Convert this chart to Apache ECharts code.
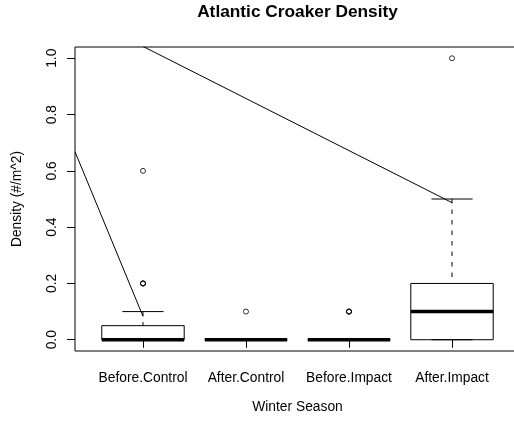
<!DOCTYPE html>
<html>
<head>
<meta charset="utf-8">
<script src="https://cdn.jsdelivr.net/npm/echarts@6/dist/echarts.min.js"></script>
<style>
  html, body { margin: 0; padding: 0; background: #fff; }
  #chart { width: 514px; height: 429px; }
</style>
</head>
<body>
<div id="chart"></div>
<script>
// Winter season groups along the x axis
const seasons = ['Before.Control', 'After.Control', 'Before.Impact', 'After.Impact'];

// Box summaries per season: whisker low, Q1, median, Q3, whisker high
const boxLow    = [0, 0, 0, 0];
const boxQ1     = [0, 0, 0, 0];
const boxMedian = [0, 0, 0, 0.1];
const boxQ3     = [0.05, 0, 0, 0.2];
const boxHigh   = [0.1, 0, 0, 0.5];

// Outlying observations (season position, density)
const outlierSeason  = [1, 1, 1, 1, 2, 3, 3, 3, 4];
const outlierDensity = [0.2, 0.2, 0.2, 0.6, 0.1, 0.1, 0.1, 0.1, 1.0];

// Two straight reference lines drawn over the boxes
const lineAX = [0.34, 1];
const lineAY = [0.668, 0.083];
const lineBX = [1, 4];
const lineBY = [1.042, 0.487];

// Axis ticks
const xTicks = [1, 2, 3, 4];
const yTicks = [0, 0.2, 0.4, 0.6, 0.8, 1.0];

const FONT = '"Liberation Sans", Arial, Helvetica, sans-serif';

const boxData = seasons.map((s, i) => [i + 1, boxLow[i], boxQ1[i], boxMedian[i], boxQ3[i], boxHigh[i]]);
const outlierData = outlierSeason.map((s, i) => [s, outlierDensity[i]]);
const lineAData = lineAX.map((x, i) => [x, lineAY[i]]);
const lineBData = lineBX.map((x, i) => [x, lineBY[i]]);

function renderBox(params, api) {
  const x = api.value(0);
  const pLo = api.coord([x, api.value(1)]);
  const pQ1 = api.coord([x, api.value(2)]);
  const pMed = api.coord([x, api.value(3)]);
  const pQ3 = api.coord([x, api.value(4)]);
  const pHi = api.coord([x, api.value(5)]);
  const half = api.size([0.8, 0])[0] / 2;
  const cap = half / 2;
  const cx = pMed[0];
  const thin = { stroke: '#000', lineWidth: 1 };
  // whiskers are dashed, drawn from the whisker end towards the box
  const dashed = { stroke: '#000', lineWidth: 1, lineDash: [4.5, 6] };
  return {
    type: 'group',
    children: [
      { type: 'line', shape: { x1: cx, y1: pHi[1], x2: cx, y2: pQ3[1] }, style: dashed },
      { type: 'line', shape: { x1: cx, y1: pLo[1], x2: cx, y2: pQ1[1] }, style: dashed },
      { type: 'line', shape: { x1: cx - cap, y1: pHi[1], x2: cx + cap, y2: pHi[1] }, style: thin },
      { type: 'line', shape: { x1: cx - cap, y1: pLo[1], x2: cx + cap, y2: pLo[1] }, style: thin },
      { type: 'rect', shape: { x: cx - half, y: pQ3[1], width: 2 * half, height: pQ1[1] - pQ3[1] },
        style: { fill: 'transparent', stroke: '#000', lineWidth: 1 } },
      { type: 'line', shape: { x1: cx - half, y1: pMed[1], x2: cx + half, y2: pMed[1] },
        style: { stroke: '#000', lineWidth: 3.5 } }
    ]
  };
}

const chart = echarts.init(document.getElementById('chart'), null, { renderer: 'canvas' });

chart.setOption({
  animation: false,
  backgroundColor: '#fff',
  graphic: [{
    type: 'text',
    x: 297.5,
    y: 12,
    style: {
      text: 'Atlantic Croaker Density',
      fill: '#000',
      font: 'bold 17.3px ' + FONT,
      align: 'center',
      verticalAlign: 'middle'
    }
  }],
  grid: {
    left: 75, top: 47, width: 445, height: 304,
    outerBoundsMode: 'none',
    containLabel: false,
    show: true, borderColor: '#000', borderWidth: 1, backgroundColor: 'transparent'
  },
  xAxis: {
    type: 'value',
    min: 0.34, max: 4.66,
    splitLine: { show: false },
    axisLine: { show: false },
    axisTick: { show: true, customValues: xTicks, length: 8, lineStyle: { color: '#000', width: 1 } },
    axisLabel: {
      customValues: xTicks,
      formatter: v => seasons[Math.round(v) - 1],
      margin: 20, fontSize: 13.8, color: '#000', fontFamily: FONT
    },
    name: 'Winter Season',
    nameLocation: 'middle',
    nameGap: 49,
    nameTextStyle: { fontSize: 13.8, color: '#000', fontFamily: FONT }
  },
  yAxis: {
    type: 'value',
    min: -0.04, max: 1.04,
    splitLine: { show: false },
    axisLine: { show: false },
    axisTick: { show: true, customValues: yTicks, length: 8, lineStyle: { color: '#000', width: 1 } },
    axisLabel: {
      customValues: yTicks,
      rotate: 90,
      formatter: v => v.toFixed(1),
      margin: 16, fontSize: 13.8, color: '#000', fontFamily: FONT
    },
    name: 'Density (#/m^2)',
    nameLocation: 'middle',
    nameRotate: 90,
    nameGap: 51,
    nameTextStyle: { fontSize: 13.8, color: '#000', fontFamily: FONT }
  },
  series: [
    {
      type: 'custom',
      renderItem: renderBox,
      data: boxData,
      encode: { x: 0, y: [1, 2, 3, 4, 5] },
      clip: true,
      silent: true
    },
    {
      type: 'scatter',
      data: outlierData,
      symbol: 'circle',
      symbolSize: 5,
      itemStyle: { color: 'transparent', borderColor: '#000', borderWidth: 1 },
      silent: true
    },
    {
      type: 'line',
      data: lineAData,
      showSymbol: false,
      clip: true,
      lineStyle: { color: '#000', width: 1 },
      silent: true
    },
    {
      type: 'line',
      data: lineBData,
      showSymbol: false,
      clip: true,
      lineStyle: { color: '#000', width: 1 },
      silent: true
    }
  ]
});
</script>
</body>
</html>
